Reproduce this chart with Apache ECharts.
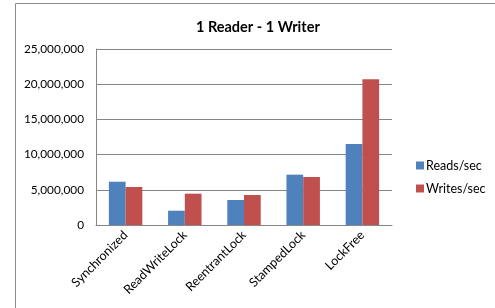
<!DOCTYPE html>
<html><head><meta charset="utf-8">
<script src="https://cdn.jsdelivr.net/npm/echarts@6/dist/echarts.min.js"></script>
<style>html,body{margin:0;padding:0;background:#fff}#c{width:495px;height:308px}</style>
</head><body><div id="c"></div>
<script>
const titleText = '1 Reader - 1 Writer';
const categories = ['Synchronized', 'ReadWriteLock', 'ReentrantLock', 'StampedLock', 'LockFree'];
const seriesNames = ['Reads/sec', 'Writes/sec'];
const readsPerSec = [6150000, 2030000, 3550000, 7150000, 11500000];
const writesPerSec = [5400000, 4450000, 4260000, 6820000, 20700000];
const yTicks = [0, 5000000, 10000000, 15000000, 20000000, 25000000];

const chart = echarts.init(document.getElementById('c'), null, {renderer: 'canvas'});
const font = 'Lato, "Open Sans", sans-serif';
chart.setOption({
  animation: false,
  backgroundColor: '#fff',
  graphic: [{type: 'rect', shape: {x: 15.5, y: 3.5, width: 500, height: 320}, style: {fill: 'none', stroke: '#8c8c8c', lineWidth: 1}, silent: true}],
  title: {text: titleText, left: 191, top: 15, textStyle: {fontFamily: font, fontSize: 14.5, fontWeight: 'bold', color: '#000'}},
  legend: {
    orient: 'vertical', left: 411, top: 154, itemWidth: 8, itemHeight: 8, itemGap: 10,
    icon: 'rect', textStyle: {fontFamily: font, fontSize: 12.5, color: '#000', padding: [0,0,0,-3]},
    data: seriesNames
  },
  grid: {left: 96, top: 49, right: 103, bottom: 83, containLabel: false},
  xAxis: {
    type: 'category', data: categories,
    axisLine: {lineStyle: {color: '#868686'}},
    axisTick: {show: false},
    axisLabel: {rotate: 45, fontFamily: font, fontSize: 12.5, color: '#000', margin: 8, interval: 0}
  },
  yAxis: {
    type: 'value', min: yTicks[0], max: yTicks[yTicks.length-1], interval: yTicks[1]-yTicks[0],
    axisLine: {show: true, lineStyle: {color: '#868686'}},
    axisTick: {show: false},
    splitLine: {lineStyle: {color: '#868686'}},
    axisLabel: {fontFamily: font, fontSize: 11.8, color: '#000', margin: 12,
      formatter: v => v.toLocaleString('en-US')}
  },
  series: [
    {name: seriesNames[0], type: 'bar', data: readsPerSec, itemStyle: {color: '#4F81BD'}, barGap: '0%', barCategoryGap: '43.5%'},
    {name: seriesNames[1], type: 'bar', data: writesPerSec, itemStyle: {color: '#C0504D'}, barGap: '0%', barCategoryGap: '43.5%'}
  ]
});
</script></body></html>
